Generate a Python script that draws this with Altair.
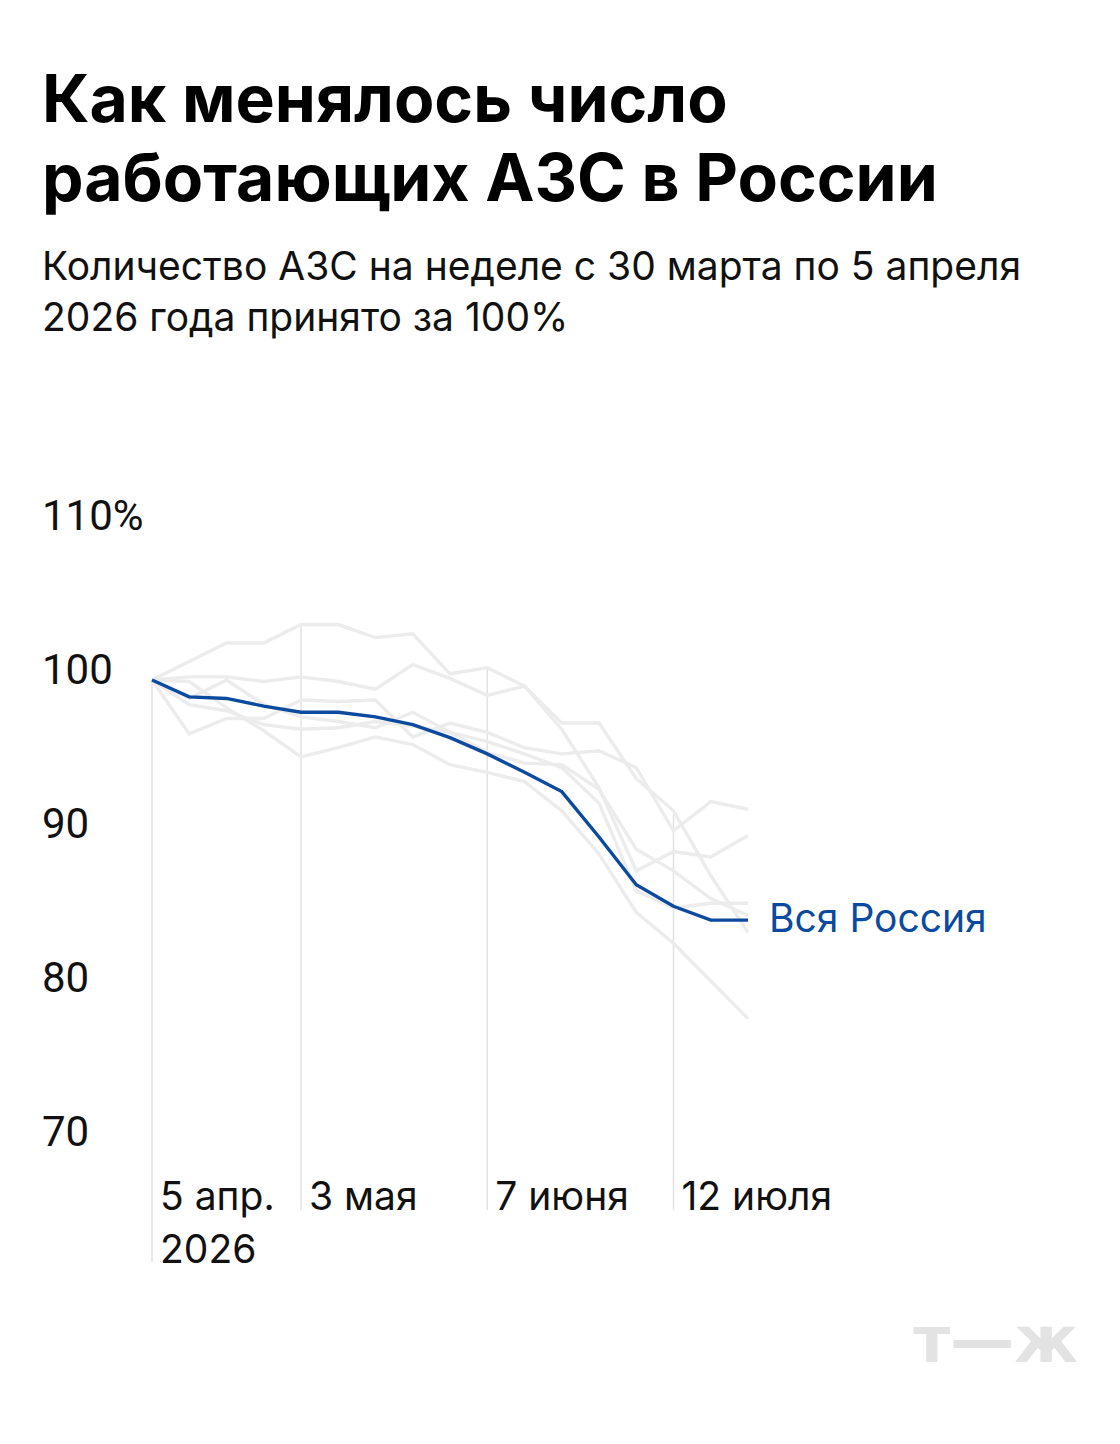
import altair as alt
import pandas as pd

# --- data (percent of the week 30 Mar – 5 Apr 2026) ---
weeks = list(range(17))  # weekly points, week 0 = 5 Apr 2026

russia = [100, 98.9, 98.8, 98.3, 97.9, 97.9, 97.6, 97.1, 96.25, 95.2, 94.0, 92.75, 89.8, 86.7, 85.3, 84.4, 84.4]

region_a = [100, 101.2, 102.4, 102.4, 103.6, 103.6, 102.75, 103.0, 100.4, 100.8, 99.6, 97.2, 97.2, 93.6, 91.5, 87.3, 83.6]
region_b = [100, 100.2, 100.2, 99.9, 100.2, 99.9, 99.4, 101.0, 100.1, 99.0, 99.6, 96.8, 93.0, 87.6, 88.85, 88.5, 89.9]
region_c = [100, 99.9, 98.2, 96.7, 95.0, 95.6, 96.3, 95.8, 94.5, 94.0, 93.4, 91.5, 88.7, 84.9, 82.9, 80.45, 78.0]
region_d = [100, 96.5, 97.5, 97.5, 98.7, 98.6, 98.7, 96.3, 97.2, 96.6, 95.6, 95.2, 95.4, 94.3, 90.2, 92.1, 91.6]
region_e = [100, 98.4, 98.0, 97.1, 96.8, 96.9, 97.3, 97.0, 96.6, 96.0, 95.2, 94.3, 92.0, 86.3, 85.2, 85.5, 85.5]
region_f = [100, 98.8, 100.0, 98.4, 97.6, 97.3, 96.9, 97.9, 96.6, 95.3, 94.6, 94.5, 92.9, 89.0, 87.6, 85.8, 84.7]

regions = {"a": region_a, "b": region_b, "c": region_c, "d": region_d, "e": region_e, "f": region_f}

tick_weeks = [0, 4, 9, 14]
tick_labels = ["5 апр.\n2026", "3 мая", "7 июня", "12 июля"]

y_ticks = [110, 100, 90, 80, 70]
y_labels = ["110%", "100", "90", "80", "70"]

series_name = "Вся Россия"

# --- tables ---
gray_rows = []
for name, vals in regions.items():
    for w, v in zip(weeks, vals):
        gray_rows.append({"region": name, "week": w, "value": v})
gray_df = pd.DataFrame(gray_rows)
blue_df = pd.DataFrame({"week": weeks, "value": russia})
all_df = pd.concat([gray_df, blue_df.assign(region="russia")], ignore_index=True)
ticks_df = pd.DataFrame({"week": tick_weeks, "label": tick_labels})
ylab_df = pd.DataFrame({"value": y_ticks, "label": y_labels})
end_df = blue_df.tail(1).assign(label=series_name)

BLUE = "#0b4a9e"
FONT = "Inter"
x_scale = alt.Scale(domain=[0, 16], range=[110, 706])
y_scale = alt.Scale(domain=[62, 110], nice=False, zero=False)
X = alt.X("week:Q", scale=x_scale, axis=None)
Y = alt.Y("value:Q", scale=y_scale, axis=None)


def tick_rules(weeks_sel, bottom_px):
    return alt.Chart(all_df).transform_filter(
        alt.FieldOneOfPredicate(field="week", oneOf=weeks_sel)
    ).transform_aggregate(
        top="max(value)", groupby=["week"]
    ).mark_rule(color="#e2e2e2", strokeWidth=1.5).encode(
        x=X,
        y=alt.Y("top:Q", scale=y_scale, axis=None),
        y2=alt.value(bottom_px),
    )


rules_first = tick_rules(tick_weeks[:1], 736)
rules_rest = tick_rules(tick_weeks[1:], 684)

gray = alt.Chart(gray_df).mark_line(color="#ececec", strokeWidth=3.4).encode(
    x=X, y=Y, detail="region:N"
)

blue = alt.Chart(blue_df).mark_line(color=BLUE, strokeWidth=3.4).encode(x=X, y=Y)

end_label = alt.Chart(end_df).mark_text(
    align="left", baseline="middle", dx=21, fontSize=39, font=FONT, color=BLUE
).encode(x=X, y=Y, text="label:N")

x_labels = alt.Chart(ticks_df).mark_text(
    align="left", baseline="alphabetic", dx=8, fontSize=39, font=FONT, color="#111111",
    lineBreak="\n", lineHeight=53,
).encode(x=X, y=alt.value(684), text="label:N")

y_text = alt.Chart(ylab_df).mark_text(
    align="left", baseline="alphabetic", dy=4, fontSize=42, font="Roboto", color="#111111"
).encode(x=alt.value(0), y=Y, text="label:N")

logo = alt.Chart(pd.DataFrame({"t": ["т—ж"]})).mark_text(
    align="right", baseline="alphabetic", fontSize=64, font="DejaVu Sans", fontWeight="bold", color="#e3e3e3"
).encode(x=alt.value(1036), y=alt.value(836), text="t:N")

chart = alt.layer(rules_first, rules_rest, gray, blue, end_label, x_labels, y_text, logo).properties(
    width=1070,
    height=739,
    background="#ffffff",
    padding={"left": 34, "top": 518, "right": 0, "bottom": 171},
    autosize=alt.AutoSizeParams(type="none"),
    title=alt.TitleParams(
        text=["Как менялось число", "работающих АЗС в России"],
        subtitle=["Количество АЗС на неделе с 30 марта по 5 апреля", "2026 года принято за 100%"],
        anchor="start",
        frame="group",
        font=FONT,
        fontSize=66,
        fontWeight=700,
        lineHeight=79,
        color="#000000",
        subtitleFont=FONT,
        subtitleFontSize=39,
        subtitleLineHeight=51,
        subtitleColor="#111111",
        subtitlePadding=34,
        offset=156,
    ),
).configure_view(strokeWidth=0)

chart.save("out.html", embed_options={"renderer": "svg", "actions": False})
